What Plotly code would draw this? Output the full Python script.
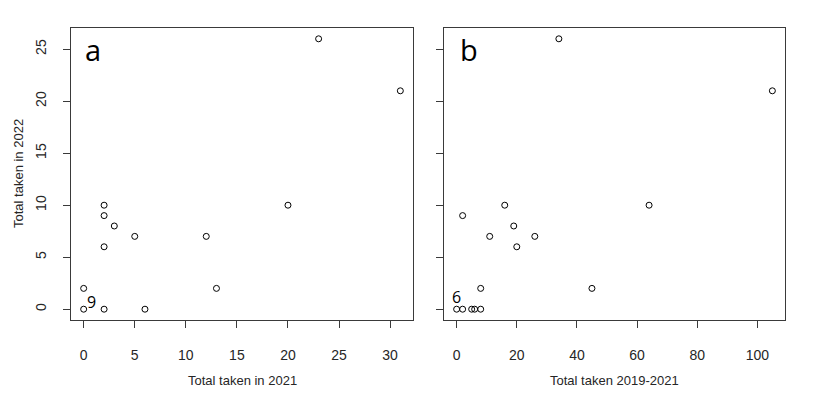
import plotly.graph_objects as go

# Panel a: 2021 vs 2022
a_x = [0, 0, 2, 2, 2, 2, 3, 5, 6, 12, 13, 20, 23, 31]
a_y = [0, 2, 0, 6, 9, 10, 8, 7, 0, 7, 2, 10, 26, 21]
# Panel b: 2019-2021 vs 2022
b_x = [0, 2, 5, 6, 8, 8, 2, 16, 19, 11, 26, 20, 45, 64, 34, 105]
b_y = [0, 0, 0, 0, 0, 2, 9, 10, 8, 7, 7, 6, 2, 10, 26, 21]

a_ticks = [0, 5, 10, 15, 20, 25, 30]
b_ticks = [0, 20, 40, 60, 80, 100]
y_ticks = [0, 5, 10, 15, 20, 25]

TXT = "#262626"
LINE = "#3a3a3a"

# page body has an 8px margin: figure is placed at (8, 8)
OFF = 8
W, H = 830 - OFF, 394 - OFF


def px(x):
    return (x - OFF) / W


def py(y):
    return 1 - (y - OFF) / H


fig = go.Figure()
mk = dict(symbol="circle-open", size=6, color="black", line=dict(width=1, color="black"))
fig.add_trace(go.Scatter(x=a_x, y=a_y, mode="markers", marker=mk, xaxis="x", yaxis="y", showlegend=False))
fig.add_trace(go.Scatter(x=b_x, y=b_y, mode="markers", marker=mk, xaxis="x2", yaxis="y2", showlegend=False))

axfont = dict(family="Liberation Sans, Arial", size=14, color=TXT)
common = dict(showline=True, mirror=True, linecolor=LINE, linewidth=1, ticks="outside",
              ticklen=7, tickcolor=LINE, showgrid=False, zeroline=False, tickfont=axfont,
              automargin=False)
ydom = [py(320), py(28)]

fig.update_layout(
    width=W, height=H,
    margin=dict(l=0, r=0, t=0, b=0),
    paper_bgcolor="white", plot_bgcolor="white",
    xaxis=dict(domain=[px(71), px(413)], range=[-1.24, 32.24], tickvals=a_ticks, anchor="y",
               ticklabelstandoff=15, **common),
    yaxis=dict(domain=ydom, range=[-1.04, 27.04], tickvals=y_ticks, tickangle=-90, anchor="x",
               ticklabelstandoff=11, **common),
    xaxis2=dict(domain=[px(444), px(785)], range=[-4.2, 109.2], tickvals=b_ticks, anchor="y2",
                ticklabelstandoff=15, **common),
    yaxis2=dict(domain=ydom, range=[-1.04, 27.04], tickvals=y_ticks, showticklabels=False, anchor="x2", **common),
)

tfont = dict(family="Liberation Sans, Arial", size=13, color=TXT)
fig.add_annotation(x=px(242), y=py(380), xref="paper", yref="paper", text="Total taken in 2021",
                   showarrow=False, font=tfont, xanchor="center", yanchor="middle")
fig.add_annotation(x=px(614), y=py(380), xref="paper", yref="paper", text="Total taken 2019-2021",
                   showarrow=False, font=tfont, xanchor="center", yanchor="middle")
fig.add_annotation(x=px(18), y=py(174), xref="paper", yref="paper", text="Total taken in 2022",
                   showarrow=False, font=tfont, textangle=-90, xanchor="center", yanchor="middle")

lab = dict(family="Open Sans, Noto Sans", color="black")
fig.add_annotation(x=0.9, y=25, xref="x", yref="y", text="a", showarrow=False, font=dict(size=29, **lab))
fig.add_annotation(x=4.1, y=25, xref="x2", yref="y2", text="b", showarrow=False, font=dict(size=29, **lab))
fig.add_annotation(x=0.8, y=0.7, xref="x", yref="y", text="9", showarrow=False, font=dict(size=16, **lab))
fig.add_annotation(x=0, y=1.15, xref="x2", yref="y2", text="6", showarrow=False, font=dict(size=16, **lab))

fig.write_html("out.html")
